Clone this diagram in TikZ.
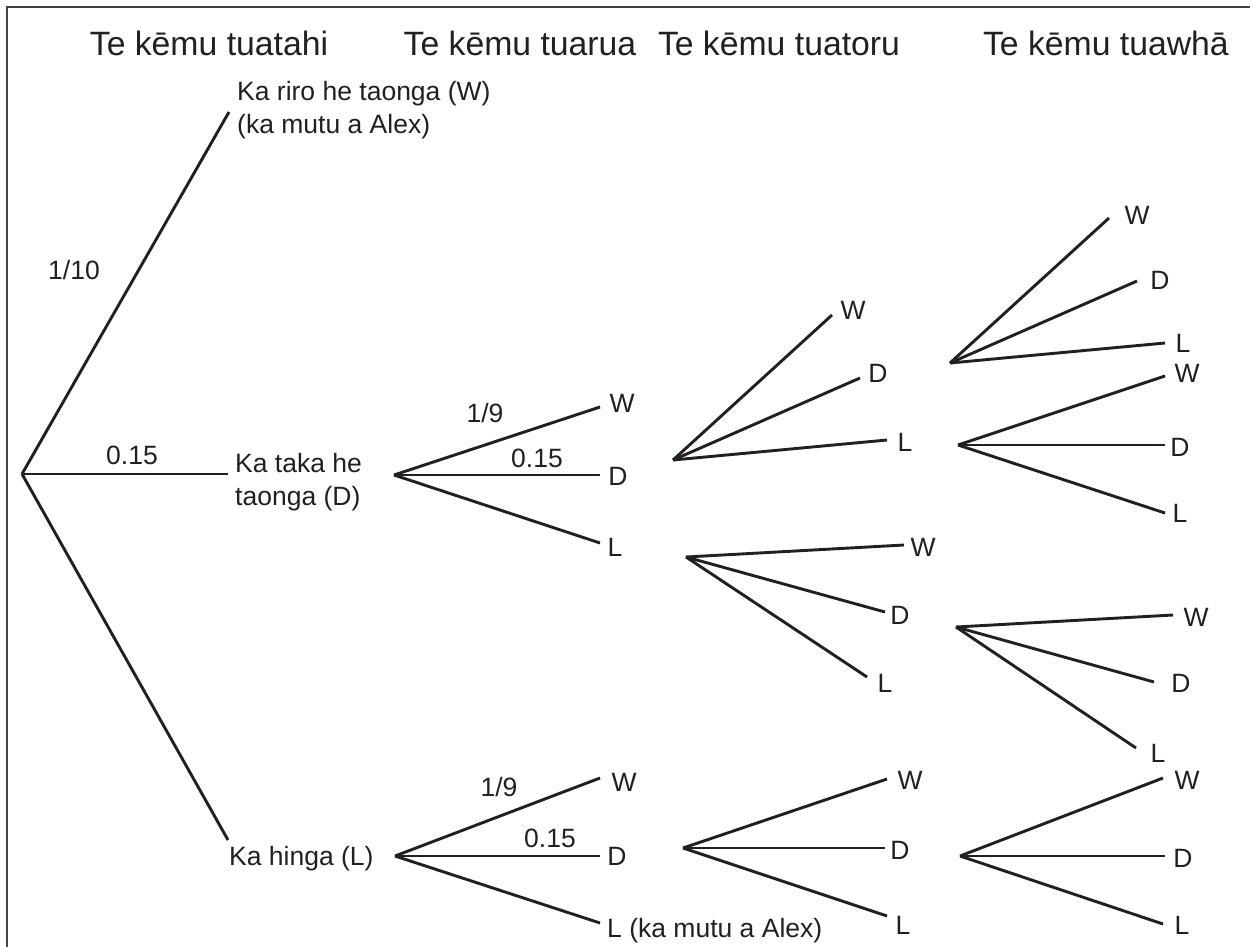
\documentclass[tikz,border=0pt]{standalone}
\usepackage{fontspec}
\setmainfont{Liberation Sans}
\definecolor{ink}{HTML}{231F20}
\begin{document}
\begin{tikzpicture}[x=1pt,y=-1pt,
  br/.style={line width=2.9pt,draw=ink},
  lbl/.style={font=\fontsize{26.5}{30}\selectfont,inner sep=0pt,text=ink},
  hd/.style={font=\fontsize{33.75}{40}\selectfont,inner sep=0pt,text=ink,anchor=base},
  frm/.style={line width=1.8pt,draw=ink!85}]
\useasboundingbox (0,0) rectangle (1250,946);
% frame
\coordinate (fTR) at (1252,7);
\coordinate (fTL) at (7,7);
\coordinate (fBL) at (7,948);
\draw[frm] (fTR) -- (fTL) -- (fBL);
% headings
\node[hd] (h1) at (209,55) {Te kēmu tuatahi};
\node[hd] (h2) at (520,55) {Te kēmu tuarua};
\node[hd] (h3) at (779,55) {Te kēmu tuatoru};
\node[hd,anchor=base east] (h4) at (1229,55) {Te kēmu tuawhā};
% game 1
\coordinate (r) at (22,474);
\coordinate (g1W) at (229,112);
\coordinate (g1D) at (228,474);
\coordinate (g1L) at (228,840);
\draw[br] (r) -- (g1W);
\draw[br] (r) -- (g1D);
\draw[br] (r) -- (g1L);
\node[lbl,anchor=base west] (t1a) at (237,100) {Ka riro he taonga (W)};
\node[lbl,anchor=base west] (t1b) at (237,133) {(ka mutu a Alex)};
\node[lbl] (p1) at (74,270) {1/10};
\node[lbl] (p2) at (132,455) {0.15};
\node[lbl,anchor=base west] (t2a) at (235,472) {Ka taka he};
\node[lbl,anchor=base west] (t2b) at (235,505) {taonga (D)};
\node[lbl,anchor=base west] (t3) at (229,865) {Ka hinga (L)};
% game 2, after D
\coordinate (o2a) at (394,475);
\coordinate (e2aW) at (600,407);
\coordinate (e2aD) at (600,475);
\coordinate (e2aL) at (600,543);
\draw[br] (o2a) -- (e2aW);
\draw[br] (o2a) -- (e2aD);
\draw[br] (o2a) -- (e2aL);
\node[lbl] (l2aW) at (622,403) {W};
\node[lbl] (l2aD) at (618,476) {D};
\node[lbl] (l2aL) at (615,547) {L};
\node[lbl] (p3) at (485,413) {1/9};
\node[lbl] (p4) at (537,458) {0.15};
% game 2, after L
\coordinate (o2b) at (395,856);
\coordinate (e2bW) at (600,778);
\coordinate (e2bD) at (600,856);
\coordinate (e2bL) at (600,923);
\draw[br] (o2b) -- (e2bW);
\draw[br] (o2b) -- (e2bD);
\draw[br] (o2b) -- (e2bL);
\node[lbl] (l2bW) at (624,782) {W};
\node[lbl] (l2bD) at (617,856) {D};
\node[lbl,anchor=base west] (l2bL) at (607,937) {L (ka mutu a Alex)};
\node[lbl] (p5) at (499,787) {1/9};
\node[lbl] (p6) at (550,838) {0.15};
% game 3 A
\coordinate (o3a) at (673,460);
\coordinate (e3aW) at (832,315);
\coordinate (e3aD) at (860,378);
\coordinate (e3aL) at (887,440);
\draw[br] (o3a) -- (e3aW);
\draw[br] (o3a) -- (e3aD);
\draw[br] (o3a) -- (e3aL);
\node[lbl] (l3aW) at (853,310) {W};
\node[lbl] (l3aD) at (878,373) {D};
\node[lbl] (l3aL) at (905,442) {L};
% game 3 B
\coordinate (o3b) at (686,557);
\coordinate (e3bW) at (904,545);
\coordinate (e3bD) at (885,612);
\coordinate (e3bL) at (867,677);
\draw[br] (o3b) -- (e3bW);
\draw[br] (o3b) -- (e3bD);
\draw[br] (o3b) -- (e3bL);
\node[lbl] (l3bW) at (923,547) {W};
\node[lbl] (l3bD) at (900,615) {D};
\node[lbl] (l3bL) at (885,683) {L};
% game 3 C
\coordinate (o3c) at (683,848);
\coordinate (e3cW) at (887,779);
\coordinate (e3cD) at (885,848);
\coordinate (e3cL) at (887,916);
\draw[br] (o3c) -- (e3cW);
\draw[br] (o3c) -- (e3cD);
\draw[br] (o3c) -- (e3cL);
\node[lbl] (l3cW) at (910,780) {W};
\node[lbl] (l3cD) at (900,850) {D};
\node[lbl] (l3cL) at (903,925) {L};
% game 4 A
\coordinate (o4a) at (950,363);
\coordinate (e4aW) at (1109,218);
\coordinate (e4aD) at (1137,281);
\coordinate (e4aL) at (1165,343);
\draw[br] (o4a) -- (e4aW);
\draw[br] (o4a) -- (e4aD);
\draw[br] (o4a) -- (e4aL);
\node[lbl] (l4aW) at (1137,215) {W};
\node[lbl] (l4aD) at (1160,280) {D};
\node[lbl] (l4aL) at (1183,343) {L};
% game 4 B
\coordinate (o4b) at (958,445);
\coordinate (e4bW) at (1165,376);
\coordinate (e4bD) at (1165,445);
\coordinate (e4bL) at (1165,513);
\draw[br] (o4b) -- (e4bW);
\draw[br] (o4b) -- (e4bD);
\draw[br] (o4b) -- (e4bL);
\node[lbl] (l4bW) at (1187,373) {W};
\node[lbl] (l4bD) at (1180,447) {D};
\node[lbl] (l4bL) at (1180,513) {L};
% game 4 C
\coordinate (o4c) at (956,627);
\coordinate (e4cW) at (1173,615);
\coordinate (e4cD) at (1154,682);
\coordinate (e4cL) at (1136,748);
\draw[br] (o4c) -- (e4cW);
\draw[br] (o4c) -- (e4cD);
\draw[br] (o4c) -- (e4cL);
\node[lbl] (l4cW) at (1196,617) {W};
\node[lbl] (l4cD) at (1181,683) {D};
\node[lbl] (l4cL) at (1158,753) {L};
% game 4 D
\coordinate (o4d) at (960,856);
\coordinate (e4dW) at (1163,778);
\coordinate (e4dD) at (1165,856);
\coordinate (e4dL) at (1163,924);
\draw[br] (o4d) -- (e4dW);
\draw[br] (o4d) -- (e4dD);
\draw[br] (o4d) -- (e4dL);
\node[lbl] (l4dW) at (1187,780) {W};
\node[lbl] (l4dD) at (1183,858) {D};
\node[lbl] (l4dL) at (1182,925) {L};
\end{tikzpicture}
\end{document}
